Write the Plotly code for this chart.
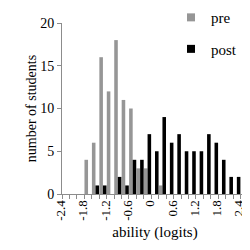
import plotly.graph_objects as go

ability = [-2.4, -2.2, -2.0, -1.8, -1.6, -1.4, -1.2, -1.0, -0.8, -0.6, -0.4, -0.2,
           0.0, 0.2, 0.4, 0.6, 0.8, 1.0, 1.2, 1.4, 1.6, 1.8, 2.0, 2.2, 2.4]
pre = [0, 0, 0, 4, 6, 16, 12, 18, 11, 10, 3, 3, 0, 1, 0, 0, 0, 0, 0, 0, 0, 0, 0, 0, 0]
post = [0, 0, 0, 0, 1, 1, 0, 2, 1, 4, 4, 7, 5, 9, 6, 7, 5, 5, 5, 7, 6, 4, 2, 2, 1]
tick_vals = [-2.4, -1.8, -1.2, -0.6, 0.0, 0.6, 1.2, 1.8, 2.4]
tick_text = ["-2.4", "-1.8", "-1.2", "-0.6", "0", "0.6", "1.2", "1.8", "2.4"]

font = "Liberation Serif"
axis_col = "#8c8c8c"
pre_col = "#969696"
post_col = "#000000"

fig = go.Figure()
fig.add_trace(go.Bar(x=ability, y=pre, name="pre", marker_color=pre_col,
                     marker_line_width=0, showlegend=False))
fig.add_trace(go.Bar(x=ability, y=post, name="post", marker_color=post_col,
                     marker_line_width=0, showlegend=False))
# legend entries
fig.add_trace(go.Scatter(x=[None], y=[None], mode="markers", name="pre",
                         marker=dict(symbol="square", size=8, color=pre_col),
                         legendgroup="a"))
fig.add_trace(go.Scatter(x=[None], y=[None], mode="markers", name="post",
                         marker=dict(symbol="square", size=8, color=post_col),
                         legendgroup="b"))

fig.update_layout(
    width=250, height=250,
    margin=dict(l=54, r=10, t=15, b=64, autoexpand=False),
    paper_bgcolor="white", plot_bgcolor="white",
    barmode="group", bargap=0.04, bargroupgap=0,
    font=dict(family=font, size=14, color="#000000"),
    showlegend=True,
    legend=dict(x=0.586, y=1.128, xanchor="left", yanchor="top",
                font=dict(family=font, size=15), bgcolor="rgba(0,0,0,0)",
                traceorder="grouped", tracegroupgap=9,
                itemwidth=30),
    xaxis=dict(range=[-2.5, 2.5], tickmode="array", tickvals=tick_vals,
               ticktext=tick_text, tickangle=-90, ticks="",
               ticklabelshift=-5,
               showline=True, linecolor=axis_col, linewidth=1,
               showgrid=False, zeroline=False,
               tickfont=dict(family=font, size=13),
               minor=dict(tickmode="linear", tick0=-2.5, dtick=0.2,
                          ticks="outside", ticklen=4, tickcolor=axis_col,
                          showgrid=False),
               title=dict(text="ability (logits)", font=dict(family=font, size=15),
                          standoff=6)),
    yaxis=dict(range=[0, 20], tickvals=[0, 5, 10, 15, 20],
               ticks="outside", ticklen=4, tickcolor=axis_col,
               showline=True, linecolor=axis_col, linewidth=1,
               showgrid=False, zeroline=False,
               tickfont=dict(family=font, size=14),
               title=dict(text="number of students", font=dict(family=font, size=14),
                          standoff=0)),
)

fig.write_html("out.html")
